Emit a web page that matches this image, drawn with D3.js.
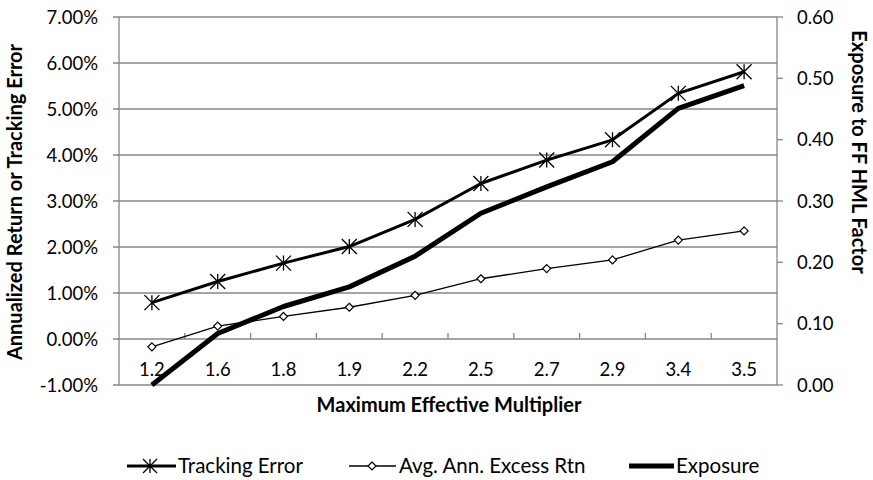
<!DOCTYPE html>
<html>
<head>
<meta charset="utf-8">
<script src="https://cdn.jsdelivr.net/npm/d3@7"></script>
<style>
body{margin:0;background:#fff;}
text{font-family:Lato,"Open Sans",sans-serif;}
</style>
</head>
<body>
<svg id="chart" width="873" height="480"></svg>
<script>
const categories = ["1.2","1.6","1.8","1.9","2.2","2.5","2.7","2.9","3.4","3.5"];
const trackingError = [0.79,1.25,1.65,2.01,2.60,3.38,3.89,4.33,5.34,5.81];
const avgExcessRtn = [-0.17,0.28,0.49,0.69,0.95,1.31,1.53,1.72,2.15,2.35];
const exposure = [0.000,0.084,0.128,0.160,0.210,0.280,0.323,0.364,0.451,0.488];
const leftTicks = [-1,0,1,2,3,4,5,6,7];
const rightTicks = [0,0.1,0.2,0.3,0.4,0.5,0.6];

const svg = d3.select("#chart");
const L = 119, R = 777, T = 17, B = 385;
const grid = "#868686";

const x = d3.scaleBand().domain(categories).range([L, R]);
const yL = d3.scaleLinear().domain([-1, 7]).range([B, T]);
const yR = d3.scaleLinear().domain([0, 0.6]).range([B, T]);

// gridlines
svg.append("g").selectAll("line").data(leftTicks).join("line")
  .attr("x1", L - 6).attr("x2", R)
  .attr("y1", d => yL(d)).attr("y2", d => yL(d))
  .attr("stroke", grid).attr("stroke-width", 1.3);

// left axis line
svg.append("line").attr("x1", L).attr("x2", L).attr("y1", T).attr("y2", B)
  .attr("stroke", grid).attr("stroke-width", 1.3);
// right axis
svg.append("line").attr("x1", R).attr("x2", R).attr("y1", T).attr("y2", B)
  .attr("stroke", grid).attr("stroke-width", 1.3);
svg.append("g").selectAll("line").data(rightTicks).join("line")
  .attr("x1", R).attr("x2", R + 6)
  .attr("y1", d => yR(d)).attr("y2", d => yR(d))
  .attr("stroke", grid).attr("stroke-width", 1.3);

// x-axis ticks at band boundaries on the 0% line, pointing up
const boundaries = categories.map(c => x(c)).slice(1);
svg.append("g").selectAll("line").data(boundaries).join("line")
  .attr("x1", d => d).attr("x2", d => d)
  .attr("y1", yL(0)).attr("y2", yL(0) - 6)
  .attr("stroke", grid).attr("stroke-width", 1.3);

const tickFont = 18.5;
// left tick labels
svg.append("g").selectAll("text").data(leftTicks).join("text")
  .attr("x", 98).attr("y", d => yL(d)).attr("dy", "0.36em")
  .attr("text-anchor", "end").attr("font-size", tickFont).attr("fill", "#000")
  .text(d => d.toFixed(2) + "%");
// right tick labels
svg.append("g").selectAll("text").data(rightTicks).join("text")
  .attr("x", 797).attr("y", d => yR(d)).attr("dy", "0.36em")
  .attr("text-anchor", "start").attr("font-size", tickFont).attr("fill", "#000")
  .text(d => d.toFixed(2));
// x tick labels
svg.append("g").selectAll("text").data(categories).join("text")
  .attr("x", d => x(d) + x.bandwidth() / 2).attr("y", 369).attr("dy", "0.36em")
  .attr("text-anchor", "middle").attr("font-size", tickFont).attr("fill", "#000")
  .text(d => d);

// axis titles
const titleFont = 20;
svg.append("text").attr("x", 449).attr("y", 405).attr("dy", "0.36em")
  .attr("text-anchor", "middle").attr("font-size", titleFont).attr("font-weight", "bold")
  .text("Maximum Effective Multiplier");
svg.append("text").attr("transform", "translate(15,202) rotate(-90)").attr("dy", "0.36em")
  .attr("text-anchor", "middle").attr("font-size", titleFont).attr("font-weight", "bold")
  .text("Annualized Return or Tracking Error");
svg.append("text").attr("transform", "translate(859,152) rotate(90)").attr("dy", "0.36em")
  .attr("text-anchor", "middle").attr("font-size", titleFont).attr("font-weight", "bold")
  .text("Exposure to FF HML Factor");

const cx = d => x(d) + x.bandwidth() / 2;

// series lines
const lineL = d3.line().x((d, i) => cx(categories[i])).y(d => yL(d));
const lineR = d3.line().x((d, i) => cx(categories[i])).y(d => yR(d));

svg.append("path").attr("d", lineR(exposure)).attr("fill", "none")
  .attr("stroke", "#000").attr("stroke-width", 5).attr("stroke-linejoin", "round");
svg.append("path").attr("d", lineL(avgExcessRtn)).attr("fill", "none")
  .attr("stroke", "#000").attr("stroke-width", 1.3);
svg.append("path").attr("d", lineL(trackingError)).attr("fill", "none")
  .attr("stroke", "#000").attr("stroke-width", 3).attr("stroke-linejoin", "round");

function starPath(px, py, s) {
  return `M${px},${py - s}L${px},${py + s}M${px - s},${py - s}L${px + s},${py + s}M${px - s},${py + s}L${px + s},${py - s}`;
}
function diamondPath(px, py, s) {
  return `M${px},${py - s}L${px + s},${py}L${px},${py + s}L${px - s},${py}Z`;
}

svg.append("g").selectAll("path").data(trackingError).join("path")
  .attr("d", (d, i) => starPath(cx(categories[i]), yL(d), 7.5))
  .attr("stroke", "#000").attr("stroke-width", 1.3).attr("fill", "none");
svg.append("g").selectAll("path").data(avgExcessRtn).join("path")
  .attr("d", (d, i) => diamondPath(cx(categories[i]), yL(d), 4))
  .attr("stroke", "#000").attr("stroke-width", 1.2).attr("fill", "#fff");

// legend
const ly = 466;
const legFont = 20.5;
const lg = svg.append("g");
lg.append("line").attr("x1", 127).attr("x2", 176).attr("y1", ly).attr("y2", ly)
  .attr("stroke", "#000").attr("stroke-width", 3);
lg.append("path").attr("d", starPath(150, ly, 7)).attr("stroke", "#000").attr("stroke-width", 1.3);
lg.append("text").attr("x", 178).attr("y", ly).attr("dy", "0.36em").attr("font-size", legFont).text("Tracking Error");
lg.append("line").attr("x1", 349).attr("x2", 396).attr("y1", ly).attr("y2", ly)
  .attr("stroke", "#000").attr("stroke-width", 1.3);
lg.append("path").attr("d", diamondPath(372, ly, 4)).attr("stroke", "#000").attr("stroke-width", 1.2).attr("fill", "#fff");
lg.append("text").attr("x", 399).attr("y", ly).attr("dy", "0.36em").attr("font-size", legFont).text("Avg. Ann. Excess Rtn");
lg.append("line").attr("x1", 629).attr("x2", 674).attr("y1", ly).attr("y2", ly)
  .attr("stroke", "#000").attr("stroke-width", 5);
lg.append("text").attr("x", 676).attr("y", ly).attr("dy", "0.36em").attr("font-size", legFont).text("Exposure");
</script>
</body>
</html>
